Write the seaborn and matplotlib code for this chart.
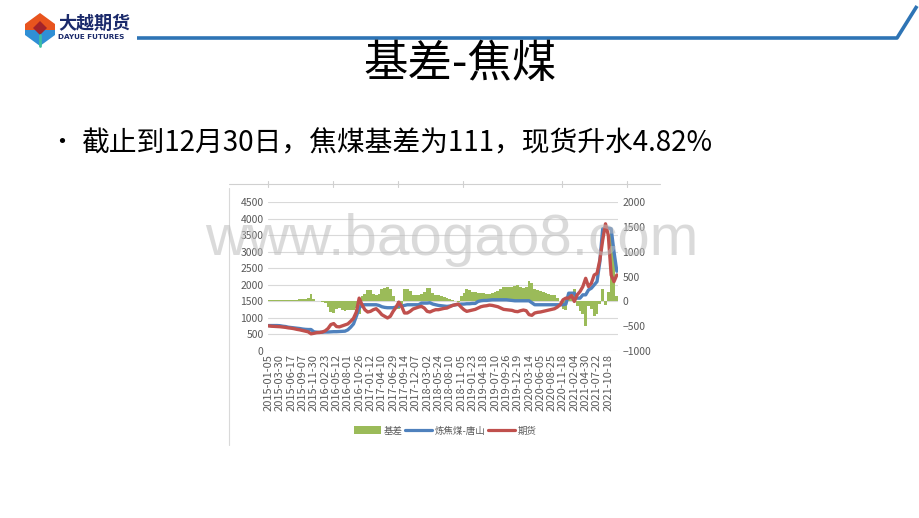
import matplotlib
matplotlib.use("Agg")
import numpy as np
import matplotlib.pyplot as plt
from matplotlib.patches import Polygon, Patch
from matplotlib.lines import Line2D
import seaborn as sns

# tick labels on the category axis (one every 4 observations)
date_labels = [
    "2015-01-05", "2015-03-30", "2015-06-17", "2015-09-07", "2015-11-30",
    "2016-02-23", "2016-05-12", "2016-08-01", "2016-10-26", "2017-01-12",
    "2017-04-10", "2017-06-29", "2017-09-14", "2017-12-07", "2018-03-02",
    "2018-05-24", "2018-08-10", "2018-11-05", "2019-01-23", "2019-04-18",
    "2019-07-10", "2019-09-26", "2019-12-19", "2020-03-14", "2020-06-05",
    "2020-08-25", "2020-11-18", "2021-02-04", "2021-04-30", "2021-07-22",
    "2021-10-18",
]

# 炼焦煤-唐山 spot price
spot = [
    770, 770, 770, 770, 765, 750, 740, 720, 710, 700, 690, 680, 665, 655, 650, 650,
    580, 570, 565, 570, 575, 575, 580, 585, 585, 590, 595, 600, 640, 720, 820, 1050,
    1300, 1400, 1400, 1400, 1400, 1400, 1400, 1380, 1340, 1320, 1310, 1310, 1310, 1330, 1360, 1360,
    1380, 1400, 1400, 1400, 1400, 1400, 1450, 1450, 1450, 1460, 1420, 1400, 1380, 1370, 1360, 1350,
    1360, 1380, 1400, 1410, 1420, 1420, 1430, 1430, 1440, 1440, 1500, 1520, 1530, 1530, 1540, 1550,
    1550, 1550, 1550, 1550, 1550, 1540, 1530, 1520, 1520, 1520, 1520, 1520, 1520, 1460, 1400, 1400,
    1400, 1400, 1400, 1400, 1400, 1400, 1400, 1400, 1400, 1420, 1750, 1750, 1750, 1600, 1600, 1700,
    1700, 1850, 1900, 2000, 2100, 2700, 3700, 3720, 3720, 3700, 3000, 2414,
]

# 期货 futures price
futures = [
    760, 750, 745, 740, 735, 725, 715, 700, 690, 675, 655, 640, 620, 600, 580, 520,
    535, 555, 560, 575, 610, 680, 800, 830, 740, 730, 760, 790, 820, 900, 990, 1180,
    1600, 1400, 1250, 1180, 1200, 1250, 1280, 1200, 1100, 1050, 1000, 1050, 1200, 1320, 1480, 1350,
    1150, 1150, 1200, 1270, 1300, 1330, 1350, 1300, 1200, 1180, 1220, 1250, 1250, 1270, 1290, 1300,
    1340, 1380, 1400, 1420, 1330, 1250, 1200, 1220, 1240, 1260, 1300, 1340, 1360, 1370, 1390, 1380,
    1360, 1340, 1300, 1260, 1250, 1240, 1230, 1200, 1190, 1220, 1240, 1220, 1100, 1080, 1150, 1170,
    1180, 1200, 1220, 1240, 1260, 1280, 1330, 1400, 1550, 1600, 1600, 1680, 1500, 1700, 1800, 1950,
    2200, 1950, 2050, 2300, 2350, 2750, 3350, 3850, 3500, 2300, 2100, 2303,
]

# 基差 basis (right axis)
basis = [
    20, 25, 30, 30, 30, 25, 25, 20, 20, 25, 30, 40, 45, 50, 60, 150,
    40, 10, 5, -5, -40, -110, -220, -240, -160, -140, -170, -190, -180, -180, -170, -130,
    -250, 100, 160, 240, 230, 150, 130, 150, 260, 280, 300, 260, 100, 10, -150, -60,
    250, 260, 220, 140, 120, 130, 150, 200, 270, 280, 180, 140, 130, 100, 90, 70,
    40, 20, 10, -10, 100, 180, 260, 230, 200, 190, 180, 180, 170, 160, 150, 170,
    190, 210, 250, 290, 300, 300, 300, 320, 330, 300, 280, 300, 420, 380, 250, 230,
    220, 200, 180, 160, 140, 120, 70, 0, -150, -180, 150, 70, 250, -100, -200, -250,
    -500, -100, -150, -300, -250, -50, 250, -80, 200, 1450, 900, 111,
]

idx = np.arange(len(spot))

GREEN = "#9BBB59"
BLUE = "#4F81BD"
RED = "#C0504D"
GREY = "#595959"

sns.set_style("white")
plt.rcParams["font.family"] = ["Noto Sans CJK SC", "DejaVu Sans"]

fig = plt.figure(figsize=(9.2, 5.18), dpi=100)

# slide decoration layer in pixel coordinates
deco = fig.add_axes([0, 0, 1, 1], zorder=-5)
deco.set_xlim(0, 920)
deco.set_ylim(518, 0)
deco.axis("off")

# logo
deco.add_patch(Polygon([(40, 13), (55, 24), (55, 30), (25, 30), (25, 24)], closed=True,
                       color="#E8541E", lw=0))
deco.add_patch(Polygon([(25, 30), (55, 30), (55, 35), (40, 46), (25, 35)], closed=True,
                       color="#2F8FD5", lw=0))
deco.add_patch(Polygon([(40, 21), (47, 28), (40, 35), (33, 28)], closed=True,
                       color="#A3232A", lw=0))
deco.plot([40, 40], [35, 46], color="#3DBFA0", lw=2)
deco.text(58, 23, "大越期货", fontsize=13, fontweight="bold", color="#1B2A6B",
          ha="left", va="center")
deco.text(58, 37, "DAYUE FUTURES", fontsize=5.2, fontweight="bold", color="#1B2A6B",
          ha="left", va="center", family="DejaVu Sans")

# header rule
deco.plot([137, 897, 917], [38, 38, 6], color="#2E74B5", lw=2.6, solid_capstyle="butt")

# title and bullet
deco.text(460, 64, "基差-焦煤", fontsize=32, color="black", ha="center", va="center")
deco.text(62, 143, "•", fontsize=18, color="black", ha="center", va="center")
deco.text(82, 143, "截止到12月30日，焦煤基差为111，现货升水4.82%", fontsize=20,
          color="black", ha="left", va="center")

# chart frame remnants
deco.plot([229, 660], [184, 184], color="#d0d0d0", lw=0.8)
for tx in [268, 333, 398, 463, 562, 627]:
    deco.plot([tx, tx], [181, 187], color="#d0d0d0", lw=0.8)
deco.plot([229, 229], [188, 445], color="#d9d9d9", lw=0.8)

# chart
ax = fig.add_axes([0.291, 0.3224, 0.381, 0.287])
ax2 = ax.twinx()

# gridlines for the left scale, drawn behind the bars
for v in range(0, 4501, 500):
    ax2.axhline((v - 1500) / 1.5, color="#d9d9d9", linewidth=0.8, zorder=0)

sns.barplot(x=idx, y=basis, native_scale=True, orient="x", width=1.0, color=GREEN,
            saturation=1, errorbar=None, linewidth=0, ax=ax2, zorder=2)
ax.set_zorder(ax2.get_zorder() + 1)
ax.patch.set_visible(False)

sns.lineplot(x=idx, y=spot, color=BLUE, linewidth=2.4, ax=ax)
sns.lineplot(x=idx, y=futures, color=RED, linewidth=2.4, ax=ax)

ax.set_ylim(0, 4500)
ax.set_yticks(range(0, 4501, 500))
ax2.set_ylim(-1000, 2000)
ax2.set_yticks(range(-1000, 2001, 500))
ax.set_xlim(-0.3, 123.5)
ax.set_xticks(range(0, 121, 4))
ax.set_xticklabels(date_labels, rotation=90)

ax.grid(False)
ax2.grid(False)
for a in (ax, ax2):
    for s in a.spines.values():
        s.set_visible(False)
    a.tick_params(length=0, labelsize=7.5, colors=GREY, pad=3)
    a.set_xlabel("")
    a.set_ylabel("")
ax.tick_params(axis="x", labelsize=8, pad=2)

handles = [
    Patch(facecolor=GREEN, edgecolor="none", label="基差"),
    Line2D([0], [0], color=BLUE, lw=2.3, label="炼焦煤-唐山"),
    Line2D([0], [0], color=RED, lw=2.3, label="期货"),
]
leg = fig.legend(handles=handles, loc="center", bbox_to_anchor=(0.484, 0.168), ncol=3,
                 frameon=False, fontsize=6.8, handlelength=2.8, handleheight=0.9,
                 handletextpad=0.3, columnspacing=0.3)
for t in leg.get_texts():
    t.set_color(GREY)

# watermark
fig.text(0.491, 0.537, "www.baogao8.com", fontsize=42, color="#bdbdbd", alpha=0.55,
         ha="center", va="center", family="Liberation Sans", zorder=10)

fig.savefig("out.png", dpi=100)
